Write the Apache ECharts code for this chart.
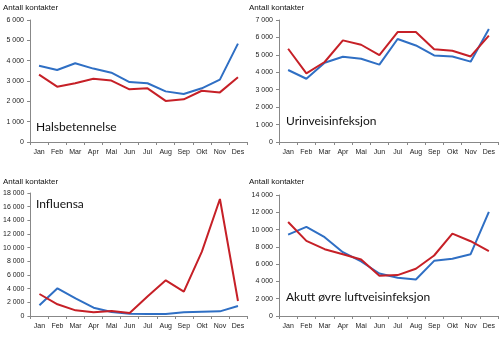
<!DOCTYPE html>
<html><head><meta charset="utf-8">
<script src="https://cdn.jsdelivr.net/npm/echarts@6/dist/echarts.min.js"></script>
<style>html,body{margin:0;padding:0;background:#fff}#c{width:500px;height:337px}</style>
</head><body><div id="c"></div>
<script>
const months = ['Jan','Feb','Mar','Apr','Mai','Jun','Jul','Aug','Sep','Okt','Nov','Des'];
const halsBlue = [3750,3540,3870,3610,3410,2950,2890,2490,2360,2640,3070,4840];
const halsRed  = [3310,2720,2890,3110,3020,2590,2640,2020,2100,2520,2440,3180];
const urinBlue = [4130,3630,4550,4890,4780,4440,5910,5540,4970,4910,4610,6480];
const urinRed  = [5350,3940,4590,5830,5580,4990,6310,6310,5320,5240,4910,6100];
const influBlue = [1560,4050,2590,1220,590,340,300,300,540,630,680,1460];
const influRed  = [3220,1710,830,540,730,440,2900,5220,3560,9410,17120,2200];
const akuttBlue = [9420,10310,9120,7380,6310,4920,4420,4230,6380,6620,7150,12040];
const akuttRed  = [10880,8690,7730,7150,6540,4650,4730,5460,7000,9540,8650,7500];
const panelTitles = ['Halsbetennelse','Urinveisinfeksjon','Influensa','Akutt øvre luftveisinfeksjon'];
const yAxisTitle = 'Antall kontakter';
const yMax = [6000,7000,18000,14000];
const yStep = [1000,1000,2000,2000];

const BLUE = '#2f6fc4', RED = '#c62027';
const grids = [
  {left:30, right:253, top:20, bottom:195},
  {left:279, right:2, top:20, bottom:195},
  {left:30, right:253, top:193, bottom:21},
  {left:279, right:2, top:195, bottom:21}
];
const fmt = v => { const s = String(v); return s.length > 3 ? s.slice(0, s.length-3) + ' ' + s.slice(-3) : s; };
const xAxis = grids.map((g,i)=>({
  type:'category', gridIndex:i, data:months, boundaryGap:true,
  axisLine:{lineStyle:{color:'#888',width:1}},
  axisTick:{show:true, alignWithLabel:false, length:3, lineStyle:{color:'#888'}},
  axisLabel:{color:'#222', fontSize:7, fontFamily:'Liberation Sans', margin:7, interval:0}
}));
const yAxis = grids.map((g,i)=>({
  type:'value', gridIndex:i, min:0, max:yMax[i], interval:yStep[i],
  splitLine:{show:false},
  axisLine:{show:true, lineStyle:{color:'#888',width:1}},
  axisTick:{show:true, length:3, lineStyle:{color:'#888'}},
  axisLabel:{color:'#222', fontSize:7, fontFamily:'Liberation Sans', margin:6, formatter:fmt}
}));
const data = [[halsBlue,halsRed],[urinBlue,urinRed],[influBlue,influRed],[akuttBlue,akuttRed]];
const series = [];
data.forEach((pair,i)=>{
  series.push({type:'line', xAxisIndex:i, yAxisIndex:i, data:pair[0], showSymbol:false, lineStyle:{color:BLUE,width:2}, itemStyle:{color:BLUE}, animation:false});
  series.push({type:'line', xAxisIndex:i, yAxisIndex:i, data:pair[1], showSymbol:false, lineStyle:{color:RED,width:2}, itemStyle:{color:RED}, animation:false});
});
const titlePos = [[36,128.5],[286,123],[36,205.5],[286,298.5]];
const axisTitlePos = [[3,8.7],[249,8.7],[3,183],[249,183]];
const graphic = [];
panelTitles.forEach((t,i)=>{
  graphic.push({type:'text', left:titlePos[i][0], top:titlePos[i][1]-7.5, style:{text:t, font:'normal 12px Lato', fill:'#111'}});
  graphic.push({type:'text', left:axisTitlePos[i][0], top:axisTitlePos[i][1]-5, style:{text:yAxisTitle, font:'normal 8px "Liberation Sans"', fill:'#111'}});
});
const chart = echarts.init(document.getElementById('c'), null, {renderer:'canvas'});
chart.setOption({animation:false, grid:grids, xAxis, yAxis, series, graphic});
</script></body></html>
